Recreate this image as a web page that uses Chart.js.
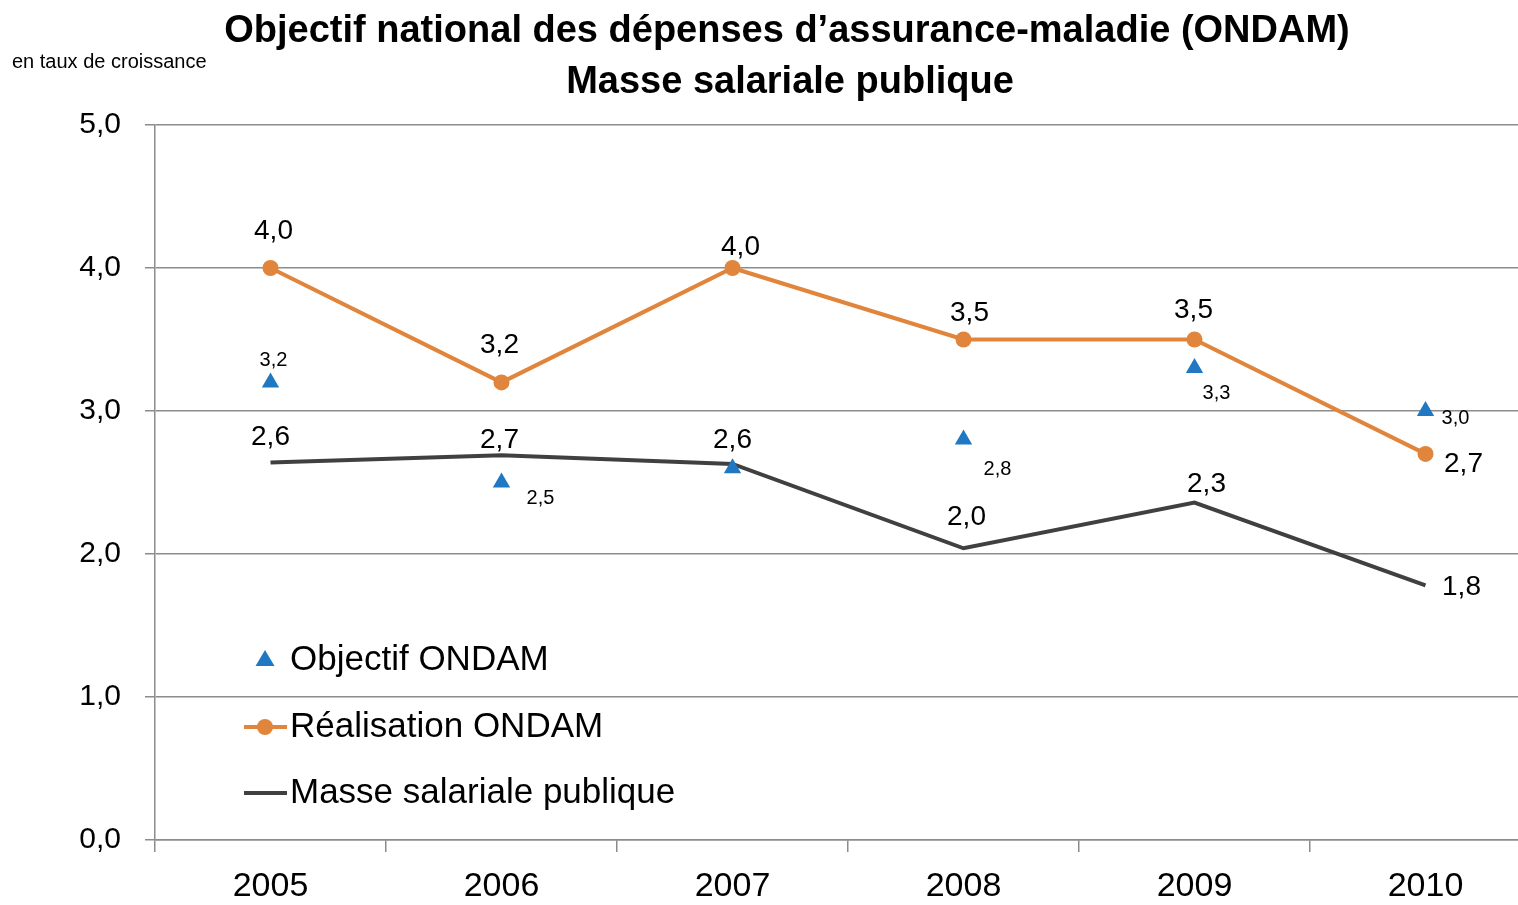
<!DOCTYPE html>
<html>
<head>
<meta charset="utf-8">
<script src="https://cdn.jsdelivr.net/npm/chart.js@4.4.1/dist/chart.umd.min.js"></script>
<style>
  html, body { margin: 0; padding: 0; background: #fff; overflow: hidden; }
  #wrap { width: 1551px; height: 905px; }
</style>
</head>
<body>
<div id="wrap"><canvas id="graphique" width="1551" height="905"></canvas></div>
<script>
const annees = ["2005", "2006", "2007", "2008", "2009", "2010"];
const objectifOndam = [3.2, 2.5, 2.6, 2.8, 3.3, 3.0];
const realisationOndam = [4.0, 3.2, 4.0, 3.5, 3.5, 2.7];
const masseSalariale = [2.64, 2.69, 2.63, 2.04, 2.36, 1.78];
const objectifLabels = ["3,2", "2,5", "", "2,8", "3,3", "3,0"];
const realisationLabels = ["4,0", "3,2", "4,0", "3,5", "3,5", "2,7"];
const masseLabels = ["2,6", "2,7", "2,6", "2,0", "2,3", "1,8"];

const FONT = "'Liberation Sans', Arial, sans-serif";
const BLEU = "#1f78c1", ORANGE = "#e0853b", GRIS = "#404040";

// decalage des etiquettes par rapport au point (dx, dy)
const offsetsObjectif = [[3, -22], [39, 16], [0, 0], [34, 30], [22, 25], [30, 7]];
const offsetsRealisation = [[3, -37], [-2, -37], [8, -21], [6, -26], [-1, -29], [38, 10]];
const offsetsMasse = [[0, -25], [-2, -15], [0, -24], [3, -31], [12, -18], [36, 2]];

function triangle(ctx, x, y, r) {
  ctx.beginPath();
  ctx.moveTo(x, y - r);
  ctx.lineTo(x + r * 0.95, y + r * 0.6);
  ctx.lineTo(x - r * 0.95, y + r * 0.6);
  ctx.closePath();
  ctx.fill();
}

const decor = {
  id: "decor",
  afterDatasetsDraw(chart) {
    const ctx = chart.ctx;
    ctx.save();
    ctx.fillStyle = "#000";
    ctx.textAlign = "center";
    ctx.textBaseline = "middle";

    // etiquettes de valeurs
    [[0, objectifLabels, offsetsObjectif, 20],
     [1, realisationLabels, offsetsRealisation, 28],
     [2, masseLabels, offsetsMasse, 28]].forEach(([i, labels, offs, size]) => {
      ctx.font = size + "px " + FONT;
      chart.getDatasetMeta(i).data.forEach((pt, j) => {
        if (labels[j]) ctx.fillText(labels[j], pt.x + offs[j][0], pt.y + offs[j][1]);
      });
    });

    // titre
    ctx.font = "bold 38px " + FONT;
    ctx.fillText("Objectif national des dépenses d’assurance-maladie (ONDAM)", 787, 32);
    ctx.fillText("Masse salariale publique", 790, 83);
    ctx.textAlign = "left";
    ctx.font = "20px " + FONT;
    ctx.fillText("en taux de croissance", 12, 62);

    // legende
    const ly = 660;
    ctx.font = "35px " + FONT;
    ctx.fillStyle = BLEU;
    triangle(ctx, 265, ly, 10);
    ctx.strokeStyle = ORANGE;
    ctx.lineWidth = 4;
    ctx.beginPath(); ctx.moveTo(244, ly + 67); ctx.lineTo(287, ly + 67); ctx.stroke();
    ctx.fillStyle = ORANGE;
    ctx.beginPath(); ctx.arc(265, ly + 67, 8, 0, Math.PI * 2); ctx.fill();
    ctx.strokeStyle = GRIS;
    ctx.beginPath(); ctx.moveTo(244, ly + 133); ctx.lineTo(287, ly + 133); ctx.stroke();
    ctx.fillStyle = "#000";
    ctx.fillText("Objectif ONDAM", 290, ly);
    ctx.fillText("Réalisation ONDAM", 290, ly + 67);
    ctx.fillText("Masse salariale publique", 290, ly + 133);
    ctx.restore();
  }
};

new Chart(document.getElementById("graphique"), {
  type: "line",
  data: {
    labels: annees,
    datasets: [
      {
        label: "Objectif ONDAM",
        data: objectifOndam,
        showLine: false,
        pointStyle: "triangle",
        pointRadius: 10,
        backgroundColor: BLEU,
        borderColor: BLEU,
        borderWidth: 0,
      },
      {
        label: "Réalisation ONDAM",
        data: realisationOndam,
        borderColor: ORANGE,
        backgroundColor: ORANGE,
        borderWidth: 4,
        pointRadius: 8,
        pointBorderWidth: 0,
        tension: 0,
      },
      {
        label: "Masse salariale publique",
        data: masseSalariale,
        borderColor: GRIS,
        backgroundColor: GRIS,
        borderWidth: 4,
        pointRadius: 0,
        tension: 0,
      },
    ],
  },
  options: {
    responsive: false,
    animation: false,
    devicePixelRatio: 1,
    layout: { padding: { top: 125, left: 0, right: 0, bottom: 0 } },
    plugins: {
      legend: { display: false },
      tooltip: { enabled: false },
    },
    scales: {
      x: {
        offset: true,
        grid: {
          offset: true,
          drawOnChartArea: false,
          drawTicks: true,
          tickLength: 12,
          color: "#8c8c8c",
          lineWidth: 1.5,
        },
        border: { color: "#8c8c8c", width: 1.5 },
        ticks: {
          color: "#000",
          padding: 14,
          font: { family: FONT, size: 34 },
        },
        afterFit: (scale) => { scale.height = 65; },
      },
      y: {
        min: 0,
        max: 5,
        ticks: {
          stepSize: 1,
          color: "#000",
          padding: 24,
          font: { family: FONT, size: 30 },
          callback: (v) => v.toFixed(1).replace(".", ","),
        },
        grid: { color: "#8c8c8c", lineWidth: 1.5, tickLength: 10 },
        border: { color: "#8c8c8c", width: 1.5 },
        afterFit: (scale) => { scale.width = 155; },
      },
    },
  },
  plugins: [decor],
});
</script>
</body>
</html>
